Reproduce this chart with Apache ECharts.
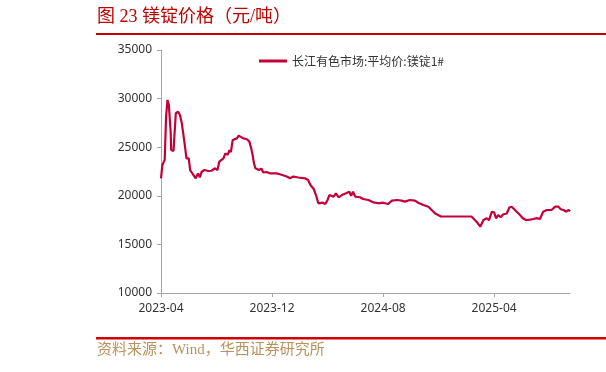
<!DOCTYPE html>
<html>
<head>
<meta charset="utf-8">
<script src="https://cdn.jsdelivr.net/npm/echarts@6/dist/echarts.min.js"></script>
<style>html,body{margin:0;padding:0;background:#fff}#c{width:606px;height:372px}</style>
</head>
<body>
<div id="c"></div>
<script>
const seriesName = '长江有色市场:平均价:镁锭1#';
const xTickLabels = ['2023-04','2023-12','2024-08','2025-04'];
const yTicks = [10000, 35000, 5000];
const dates = [
'2023-04-01','2023-04-04','2023-04-09','2023-04-12','2023-04-15','2023-04-18','2023-04-22','2023-04-23','2023-04-28',
'2023-05-01','2023-05-03','2023-05-08','2023-05-12','2023-05-16','2023-05-19','2023-05-22','2023-05-26',
'2023-06-01','2023-06-04','2023-06-06','2023-06-11','2023-06-16','2023-06-21','2023-06-25','2023-06-29',
'2023-07-05','2023-07-13','2023-07-20','2023-07-28','2023-08-03','2023-08-07','2023-08-11','2023-08-16','2023-08-20','2023-08-25','2023-08-29',
'2023-09-02','2023-09-06','2023-09-10','2023-09-15','2023-09-19','2023-09-23','2023-09-29',
'2023-10-06','2023-10-12','2023-10-16','2023-10-19','2023-10-22','2023-10-25','2023-10-29',
'2023-11-03','2023-11-08','2023-11-12','2023-11-19','2023-11-26','2023-12-11','2023-12-18',
'2024-01-03','2024-01-10','2024-01-17','2024-01-28','2024-02-12','2024-02-19','2024-02-24',
'2024-03-01','2024-03-06','2024-03-11','2024-03-15','2024-03-21','2024-03-26','2024-04-01','2024-04-05','2024-04-09','2024-04-14','2024-04-19','2024-04-25',
'2024-05-02','2024-05-11','2024-05-18','2024-05-22','2024-05-26','2024-06-01','2024-06-11','2024-06-18','2024-06-29',
'2024-07-10','2024-07-21','2024-08-01','2024-08-12','2024-08-20','2024-08-31','2024-09-11','2024-09-18','2024-09-29',
'2024-10-10','2024-10-17','2024-10-28','2024-11-09','2024-11-16','2024-11-23','2024-11-30','2024-12-06',
'2025-02-12','2025-02-23','2025-03-01','2025-03-08','2025-03-15','2025-03-20','2025-03-26',
'2025-04-01','2025-04-05','2025-04-10','2025-04-15','2025-04-21','2025-04-28','2025-05-04','2025-05-09','2025-05-16','2025-05-27',
'2025-06-03','2025-06-10','2025-06-19','2025-06-26','2025-07-03','2025-07-10','2025-07-17','2025-07-25',
'2025-08-05','2025-08-13','2025-08-20','2025-08-25','2025-09-01','2025-09-07','2025-09-12','2025-09-15'
];
const prices = [
21800,23170,23700,28140,29860,29340,26460,24710,24610,
24540,28490,28650,28310,27460,26430,25400,23860,
23860,22650,22480,22140,21800,22310,21900,22480,
22650,22550,22580,22830,22650,23510,23400,23860,24370,24200,24710,
24500,25740,25600,25910,26190,26150,25910,
25840,25570,24880,24200,23340,22830,23000,
22650,22800,22400,22450,22310,22310,22210,
21980,21800,21980,21880,21800,21630,21110,
20700,20080,19230,19050,19290,19150,19570,20080,20190,19910,20260,19840,
20080,20260,20420,20000,20420,19910,19850,19670,19570,
19330,19230,19290,19160,19500,19570,19500,19400,19570,
19500,19290,19050,18880,18540,18200,18020,17870,
17870,17340,16820,17510,17690,17500,18360,
18300,17690,18020,17800,18100,18150,18790,18880,18540,18020,
17690,17510,17550,17610,17700,17610,18360,18540,
18540,18880,18880,18620,18540,18360,18540,18400
];

function toMonth(s){
  const p = s.split('-').map(Number);
  return (p[0]-2023)*12 + (p[1]-4) + ((p[2]||1)-1)/30;
}
function monthLabel(v){
  const t = Math.round(v) + 3;
  const y = 2023 + Math.floor(t/12);
  const m = t % 12 + 1;
  return y + '-' + (m < 10 ? '0' + m : m);
}
const tickVals = xTickLabels.map(toMonth);
const lineData = dates.map((d,i)=>[toMonth(d), prices[i]]);

const chart = echarts.init(document.getElementById('c'), null, {renderer:'canvas'});
const axisColor = '#a6a6a6';
const labelFont = '"Noto Sans", "Noto Sans CJK SC", sans-serif';
chart.setOption({
  animation:false,
  backgroundColor:'#fff',
  grid:{left:161, right:36, top:50, bottom:79, containLabel:false},
  legend:{
    data:[seriesName], left:254, top:50,
    icon:'rect', itemWidth:28, itemHeight:3,
    textStyle:{fontSize:12, color:'#333', fontFamily:'"Noto Sans CJK SC", sans-serif'}
  },
  xAxis:{
    type:'value', min:0, max:'dataMax',
    splitLine:{show:false},
    axisLine:{lineStyle:{color:axisColor, width:1}},
    axisTick:{show:true, length:4, customValues:tickVals, lineStyle:{color:axisColor}},
    axisLabel:{customValues:tickVals, formatter:monthLabel, fontSize:12, color:'#333', margin:10, fontFamily:labelFont}
  },
  yAxis:{
    type:'value', min:yTicks[0], max:yTicks[1], interval:yTicks[2],
    splitLine:{show:false},
    axisLine:{show:true, lineStyle:{color:axisColor, width:1}},
    axisTick:{show:true, length:4, lineStyle:{color:axisColor}},
    axisLabel:{fontSize:12, color:'#333', margin:9, fontFamily:labelFont, formatter:function(v){return String(v);}}
  },
  series:[{
    name:seriesName, type:'line', data:lineData, showSymbol:false,
    lineStyle:{color:'#C4003A', width:2.2}, itemStyle:{color:'#C4003A'}
  }],
  graphic:[
    {type:'text', left:97, top:8, style:{text:'图 23 镁锭价格（元/吨）', fill:'#C00000', font:'18px "Liberation Serif", "Noto Sans CJK SC", serif'}},
    {type:'rect', shape:{x:96, y:33, width:510, height:2}, style:{fill:'#C00000'}},
    {type:'rect', shape:{x:96, y:337, width:510, height:2.5}, style:{fill:'#D00000'}},
    {type:'text', left:97, top:343, style:{text:'资料来源：Wind，华西证券研究所', fill:'#B8925C', font:'15px "Liberation Serif", "Noto Sans CJK SC", serif'}}
  ]
});
</script>
</body>
</html>
